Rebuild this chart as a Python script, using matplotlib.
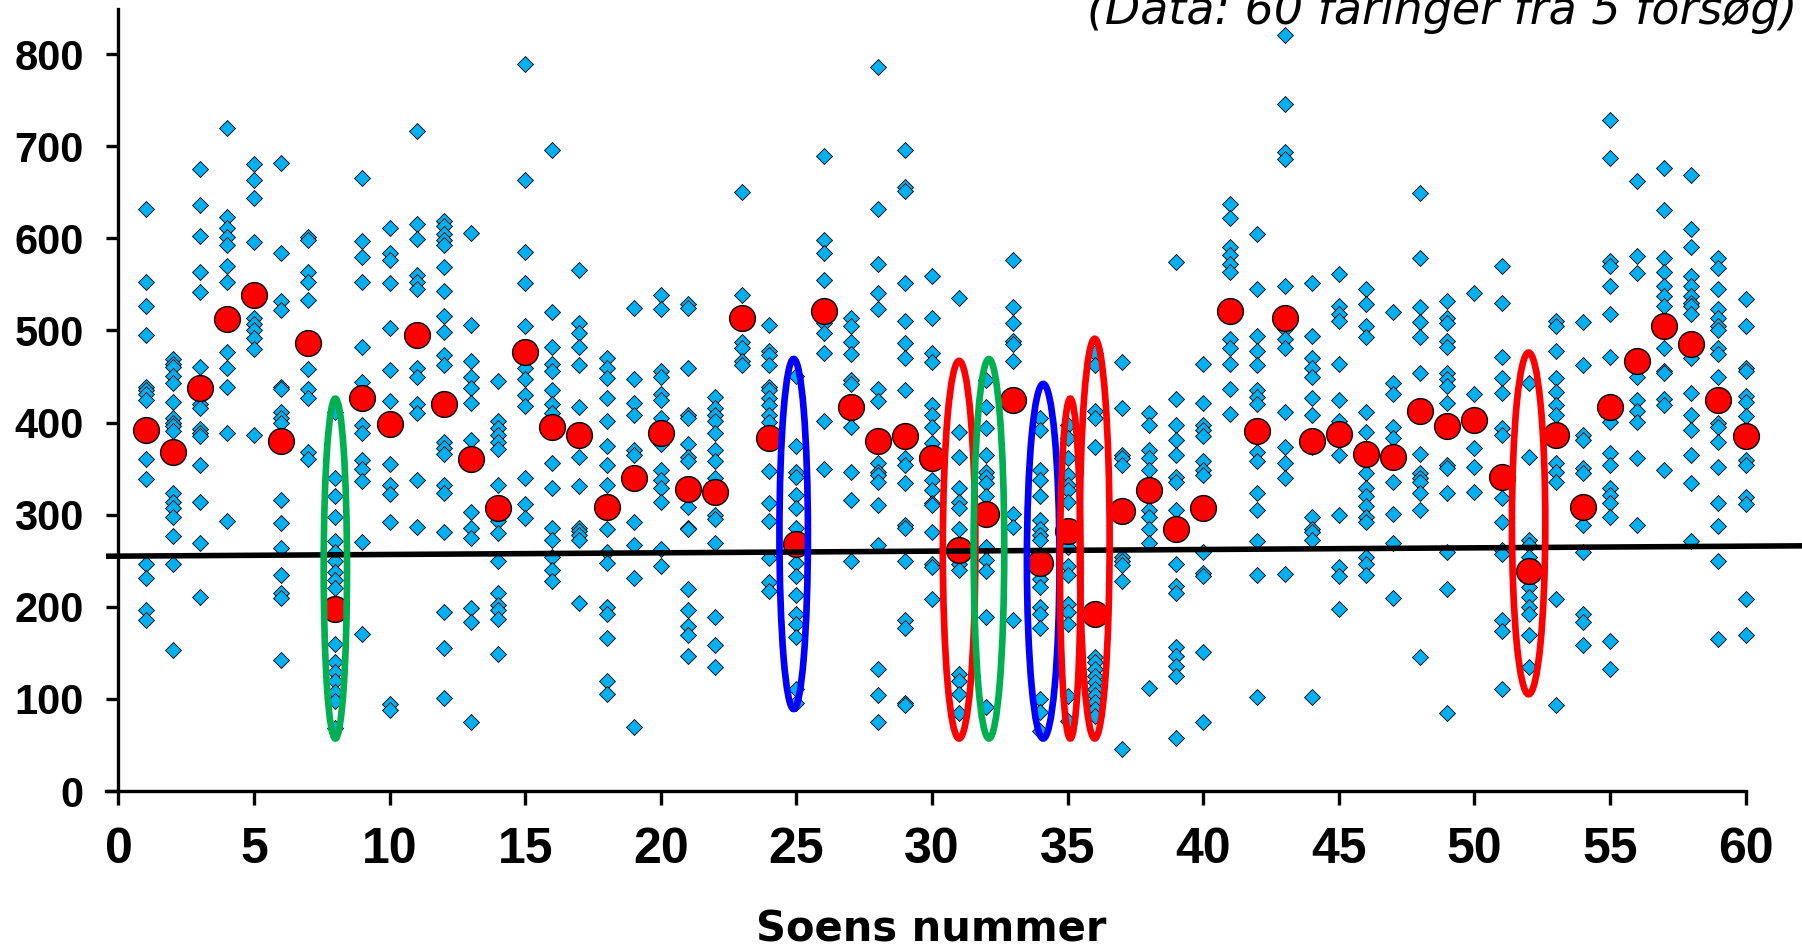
import matplotlib
matplotlib.use("Agg")
import matplotlib.pyplot as plt
from matplotlib.patches import Ellipse

# ---------------- data ----------------
s01 = [632, 553, 527, 495, 439, 435, 431, 425, 360, 339, 247, 231, 197, 186]
s02 = [469, 464, 460, 451, 443, 422, 405, 400, 396, 391, 324, 314, 307, 298, 277, 246, 153]
s03 = [675, 636, 603, 564, 542, 460, 420, 416, 393, 389, 385, 354, 314, 269, 211]
s04 = [720, 623, 611, 601, 593, 570, 553, 477, 459, 439, 389, 293]
s05 = [681, 663, 644, 596, 514, 507, 501, 492, 480, 386]
s06 = [682, 584, 532, 522, 439, 436, 412, 405, 399, 316, 291, 264, 235, 215, 210, 142]
s07 = [602, 598, 563, 553, 533, 486, 458, 436, 427, 368, 360]
s08 = [412, 340, 320, 298, 271, 259, 250, 238, 229, 220, 198, 160, 140, 129, 119, 108, 98, 68]
s09 = [665, 597, 580, 553, 482, 444, 397, 389, 359, 350, 337, 270, 171]
s10 = [611, 584, 576, 552, 503, 457, 423, 355, 332, 322, 292, 94, 88]
s11 = [717, 616, 599, 560, 553, 545, 495, 459, 449, 420, 410, 338, 287]
s12 = [619, 613, 605, 598, 593, 569, 543, 516, 498, 473, 462, 379, 372, 366, 332, 323, 281, 194, 155, 101]
s13 = [606, 506, 467, 450, 438, 421, 381, 303, 286, 275, 199, 184, 75]
s14 = [445, 402, 394, 386, 379, 371, 332, 293, 280, 250, 215, 202, 197, 187, 149]
s15 = [789, 663, 585, 552, 505, 459, 447, 430, 418, 340, 312, 296]
s16 = [696, 520, 482, 464, 456, 435, 420, 410, 356, 329, 286, 273, 254, 240, 228]
s17 = [566, 508, 497, 482, 463, 417, 363, 331, 286, 282, 278, 273, 204]
s18 = [470, 459, 448, 427, 402, 375, 354, 332, 284, 259, 248, 200, 192, 166, 119, 105]
s19 = [524, 447, 421, 408, 370, 365, 292, 267, 231, 69]
s20 = [538, 523, 456, 449, 431, 424, 405, 377, 348, 338, 329, 314, 263, 244]
s21 = [529, 524, 459, 408, 405, 377, 363, 358, 308, 286, 284, 219, 196, 179, 169, 147]
s22 = [428, 416, 408, 402, 389, 370, 358, 340, 300, 295, 269, 189, 158, 135]
s23 = [650, 539, 512, 487, 481, 467, 463]
s24 = [506, 478, 473, 462, 439, 435, 427, 419, 408, 401, 347, 313, 293, 253, 227, 217]
s25 = [451, 375, 346, 341, 321, 307, 286, 273, 248, 233, 213, 192, 181, 167, 111, 96]
s26 = [689, 598, 584, 555, 508, 497, 475, 402, 350]
s27 = [513, 505, 487, 474, 446, 442, 408, 395, 346, 316, 250]
s28 = [786, 632, 572, 541, 523, 436, 423, 356, 346, 343, 335, 311, 267, 132, 104, 75]
s29 = [696, 656, 651, 552, 510, 486, 470, 435, 362, 354, 334, 289, 286, 250, 186, 177, 96, 93]
s30 = [559, 514, 475, 466, 419, 408, 395, 378, 338, 327, 313, 311, 281, 247, 243, 209]
s31 = [535, 390, 363, 329, 314, 307, 284, 246, 240, 127, 119, 105, 85]
s32 = [446, 417, 394, 365, 346, 341, 334, 320, 265, 251, 239, 189, 91]
s33 = [576, 525, 508, 489, 485, 467, 301, 287, 186]
s34 = [405, 392, 348, 338, 320, 294, 285, 278, 273, 230, 221, 200, 192, 177, 100, 86, 65]
s35 = [397, 383, 362, 343, 332, 327, 314, 265, 244, 235, 203, 194, 181, 103, 76]
s36 = [476, 462, 413, 405, 373, 146, 140, 132, 125, 118, 111, 104, 97, 89, 81]
s37 = [466, 416, 365, 361, 354, 254, 250, 245, 228, 46]
s38 = [410, 397, 370, 361, 348, 305, 297, 285, 269, 112]
s39 = [574, 426, 397, 381, 365, 341, 335, 305, 246, 223, 215, 156, 147, 136, 125, 58]
s40 = [464, 421, 397, 392, 385, 358, 348, 343, 259, 237, 233, 151, 75]
s41 = [637, 622, 591, 582, 572, 564, 491, 481, 464, 436, 409]
s42 = [605, 545, 494, 478, 463, 435, 428, 420, 368, 358, 323, 305, 271, 235, 102]
s43 = [821, 746, 694, 686, 548, 502, 491, 481, 412, 373, 356, 340, 236]
s44 = [552, 494, 470, 459, 449, 427, 408, 373, 298, 285, 281, 273, 102]
s45 = [561, 527, 518, 510, 464, 424, 402, 365, 300, 243, 233, 198]
s46 = [545, 529, 505, 493, 412, 390, 345, 329, 320, 309, 297, 292, 254, 246, 235]
s47 = [520, 443, 431, 395, 383, 336, 301, 269, 210]
s48 = [649, 579, 525, 509, 493, 454, 366, 345, 340, 336, 324, 305, 146]
s49 = [532, 513, 508, 489, 482, 454, 447, 440, 421, 354, 351, 323, 260, 219, 85]
s50 = [541, 431, 372, 352, 325]
s51 = [570, 530, 471, 448, 432, 394, 386, 318, 292, 262, 257, 186, 174, 111]
s52 = [443, 363, 273, 267, 254, 221, 211, 200, 192, 169, 135]
s53 = [510, 505, 478, 448, 433, 419, 408, 356, 346, 335, 208, 93]
s54 = [509, 463, 386, 381, 351, 345, 289, 260, 192, 184, 159]
s55 = [729, 687, 575, 570, 548, 518, 471, 401, 367, 354, 329, 321, 313, 298, 163, 132]
s56 = [662, 581, 562, 449, 424, 413, 401, 361, 289]
s57 = [676, 631, 579, 563, 548, 537, 527, 481, 456, 454, 426, 419, 348]
s58 = [669, 610, 591, 559, 548, 537, 530, 527, 518, 470, 432, 408, 392, 365, 334, 271]
s59 = [579, 568, 545, 523, 514, 505, 500, 481, 474, 449, 400, 395, 379, 352, 313, 288, 250, 165]
s60 = [534, 505, 459, 456, 429, 422, 407, 359, 354, 319, 312, 208, 169]

sow_numbers = list(range(1, 61))
sow_means = [392, 368, 437, 512, 539, 380, 486, 198, 427, 398,
             495, 420, 360, 307, 477, 395, 387, 308, 340, 389,
             328, 325, 514, 383, 268, 521, 417, 380, 385, 361,
             262, 301, 425, 248, 282, 192, 304, 327, 284, 307,
             521, 391, 514, 380, 388, 366, 363, 413, 396, 403,
             341, 239, 387, 308, 417, 467, 505, 485, 425, 385]

trend_intercept = 255
trend_slope = 0.18

# highlighted sows (ellipses)
ell_sow = [8, 24.9, 31, 32.1, 34.1, 35.1, 36, 52]
ell_low = [57, 89, 57, 57, 57, 57, 57, 105]
ell_high = [426, 469, 467, 469, 442, 426, 491, 476]
ell_width = [0.86, 1.05, 1.2, 1.13, 1.2, 0.76, 1.1, 1.23]
ell_color = ["#00B050", "#0000FF", "#FF0000", "#00B050", "#0000FF", "#FF0000", "#FF0000", "#FF0000"]

x_ticks = list(range(0, 61, 5))
y_ticks = list(range(0, 801, 100))
x_label = "Soens nummer"
title_text = "(Data: 60 faringer fra 5 forsøg)"

all_sows = [s01, s02, s03, s04, s05, s06, s07, s08, s09, s10,
            s11, s12, s13, s14, s15, s16, s17, s18, s19, s20,
            s21, s22, s23, s24, s25, s26, s27, s28, s29, s30,
            s31, s32, s33, s34, s35, s36, s37, s38, s39, s40,
            s41, s42, s43, s44, s45, s46, s47, s48, s49, s50,
            s51, s52, s53, s54, s55, s56, s57, s58, s59, s60]

# ---------------- figure ----------------
W, H = 1802, 947
fig = plt.figure(figsize=(W / 100, H / 100), dpi=100)
left_px, bottom_px = 106, 156
ax = fig.add_axes([left_px / W, bottom_px / H, 1 - left_px / W, 1 - bottom_px / H])
ax.set_xlim(-0.457, 62.08)
ax.set_ylim(0, 858.8)

xs, ys = [], []
for n, vals in zip(sow_numbers, all_sows):
    xs.extend([n] * len(vals))
    ys.extend(vals)
ax.scatter(xs, ys, marker="D", s=66, facecolor="#00B0F0", edgecolor="black",
           linewidth=0.6, zorder=3, clip_on=False)
ax.scatter(sow_numbers, sow_means, marker="o", s=345, facecolor="#FF0000",
           edgecolor="black", linewidth=1.0, zorder=4, clip_on=False)
ax.axline((0, trend_intercept), slope=trend_slope, color="black", lw=4.0, zorder=5)

for cx, lo, hi, w, c in zip(ell_sow, ell_low, ell_high, ell_width, ell_color):
    ax.add_patch(Ellipse((cx, (lo + hi) / 2), w, hi - lo, fill=False,
                         edgecolor=c, lw=4.8, zorder=6))

for side in ("top", "right"):
    ax.spines[side].set_visible(False)
ax.spines["left"].set_position(("data", 0))
ax.spines["left"].set_bounds(0, 849)
ax.spines["bottom"].set_bounds(-0.457, 60)
for side in ("left", "bottom"):
    ax.spines[side].set_linewidth(2.4)

ax.set_xticks(x_ticks)
ax.set_yticks(y_ticks)
ax.tick_params(axis="x", direction="out", length=10, width=2.4, pad=16)
ax.tick_params(axis="y", direction="out", length=9, width=2.4, pad=16)
for lab in ax.get_xticklabels():
    lab.set_fontfamily("Liberation Sans")
    lab.set_fontweight("bold")
    lab.set_fontsize(36)
for lab in ax.get_yticklabels():
    lab.set_fontfamily("Liberation Sans")
    lab.set_fontweight("bold")
    lab.set_fontsize(30)

fig.text(931 / W, 6 / H, x_label, ha="center", va="baseline",
         fontsize=30, fontfamily="DejaVu Sans", fontweight="bold")
fig.text(1797 / W, 1 - 24 / H, title_text, ha="right", va="baseline",
         fontsize=33, fontfamily="DejaVu Sans", style="italic")

fig.savefig("out.png", dpi=100)
